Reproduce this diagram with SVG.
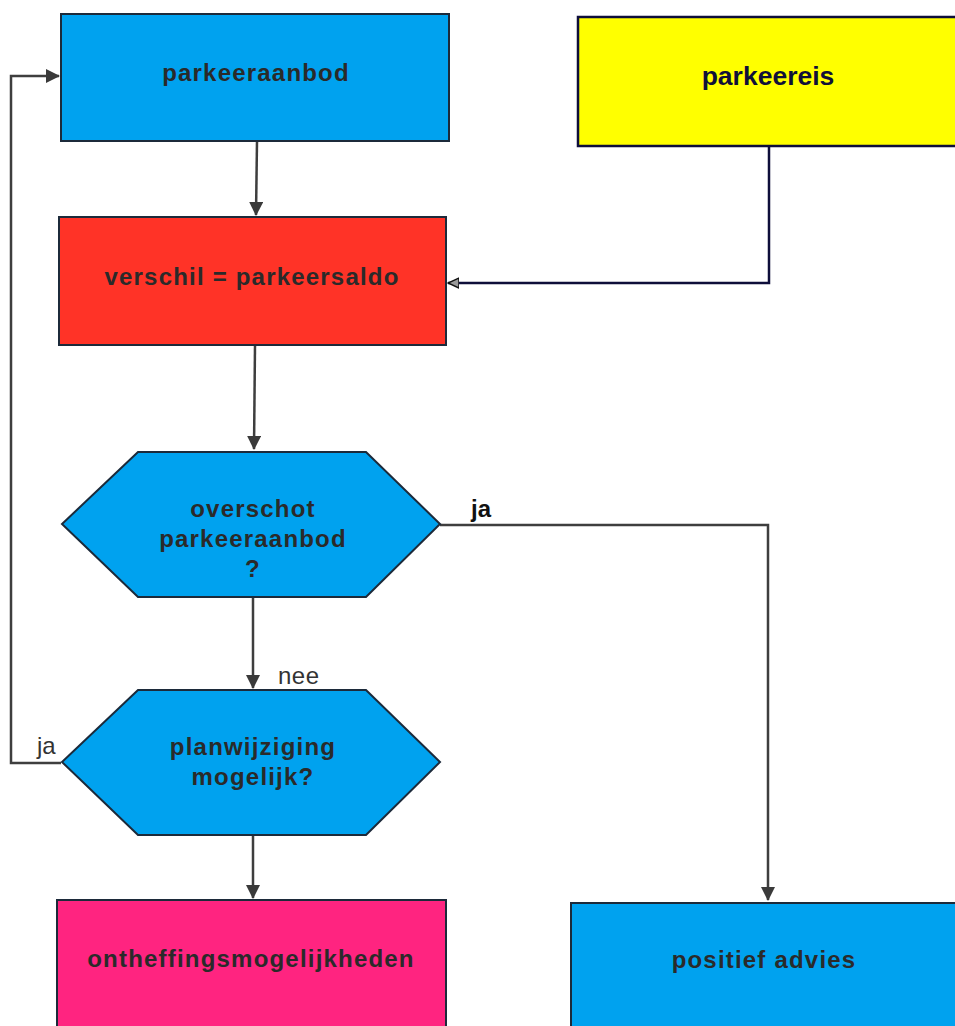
<svg xmlns="http://www.w3.org/2000/svg" width="955" height="1026" viewBox="0 0 955 1026">
<defs>
<marker id="arr" viewBox="0 0 14 14" refX="13" refY="7" markerWidth="14" markerHeight="14" markerUnits="userSpaceOnUse" orient="auto">
<path d="M0,0 L14,7 L0,14 Z" fill="#3a3a3a"/>
</marker>
<marker id="arrg" viewBox="0 0 12 12" refX="11" refY="6" markerWidth="12" markerHeight="12" markerUnits="userSpaceOnUse" orient="auto">
<path d="M0,1 L11,6 L0,11 Z" fill="#9a9a9a" stroke="#111" stroke-width="1.5"/>
</marker>
</defs>
<style>
.box{stroke:#1c2a3a;stroke-width:2}
.blue{fill:#00a2ef}
.red{fill:#ff3327}
.pink{fill:#ff2480}
.yellow{fill:#ffff00;stroke:#0e0e3a;stroke-width:2.5}
.t{font-family:"Liberation Sans",Arial,sans-serif;font-weight:bold;font-size:24px;letter-spacing:1.2px;fill:#2a2a2a;text-anchor:middle}
.c{fill:none;stroke:#3e3e3e;stroke-width:2.5}
.lbl{font-family:"Liberation Sans",Arial,sans-serif;font-size:24px;fill:#333}
</style>
<rect width="955" height="1026" fill="#ffffff"/>
<g id="connectors">
<path class="c" d="M257,141 L256,215" marker-end="url(#arr)"/>
<path class="c" d="M255,345 L254,449" marker-end="url(#arr)"/>
<path class="c" d="M253,597 L253,688" marker-end="url(#arr)"/>
<path class="c" d="M253,835 L253,898" marker-end="url(#arr)"/>
<path class="c" d="M440,525 L768,525 L768,900" marker-end="url(#arr)"/>
<path class="c" d="M61,763 L11,763 L11,76 L59,76" marker-end="url(#arr)"/>
<path fill="none" stroke="#0e0e3a" stroke-width="2.5" d="M769,146 L769,283 L448,283" marker-end="url(#arrg)"/>
</g>
<g id="parkeeraanbod">
<rect class="box blue" x="61" y="14" width="388" height="127"/>
<text class="t" x="256" y="81">parkeeraanbod</text>
</g>
<g id="parkeereis">
<rect class="yellow" x="578" y="17" width="390" height="129"/>
<text x="768" y="85" font-family="Liberation Sans,Arial,sans-serif" font-weight="bold" font-size="26.5" fill="#101038" text-anchor="middle">parkeereis</text>
</g>
<g id="verschil">
<rect class="box red" x="59" y="217" width="387" height="128"/>
<text class="t" x="252" y="285">verschil = parkeersaldo</text>
</g>
<g id="overschot">
<polygon class="box blue" points="138,452 366,452 440,524 366,597 138,597 62,524"/>
<text class="t" x="253" y="517">overschot</text>
<text class="t" x="253" y="547">parkeeraanbod</text>
<text class="t" x="253" y="577">?</text>
</g>
<g id="planwijziging">
<polygon class="box blue" points="138,690 366,690 440,762 366,835 138,835 62,762"/>
<text class="t" x="253" y="755">planwijziging</text>
<text class="t" x="253" y="785">mogelijk?</text>
</g>
<g id="ontheffingsmogelijkheden">
<rect class="box pink" x="57" y="900" width="389" height="140"/>
<text class="t" x="251" y="967">ontheffingsmogelijkheden</text>
</g>
<g id="positief-advies">
<rect class="box blue" x="571" y="903" width="400" height="140"/>
<text class="t" x="764" y="968">positief advies</text>
</g>
<g id="labels">
<text x="471" y="517" font-family="Liberation Sans,Arial,sans-serif" font-weight="bold" font-size="24" fill="#111">ja</text>
<text class="lbl" x="278" y="684" letter-spacing="0.5">nee</text>
<text class="lbl" x="37" y="754">ja</text>
</g>
</svg>
